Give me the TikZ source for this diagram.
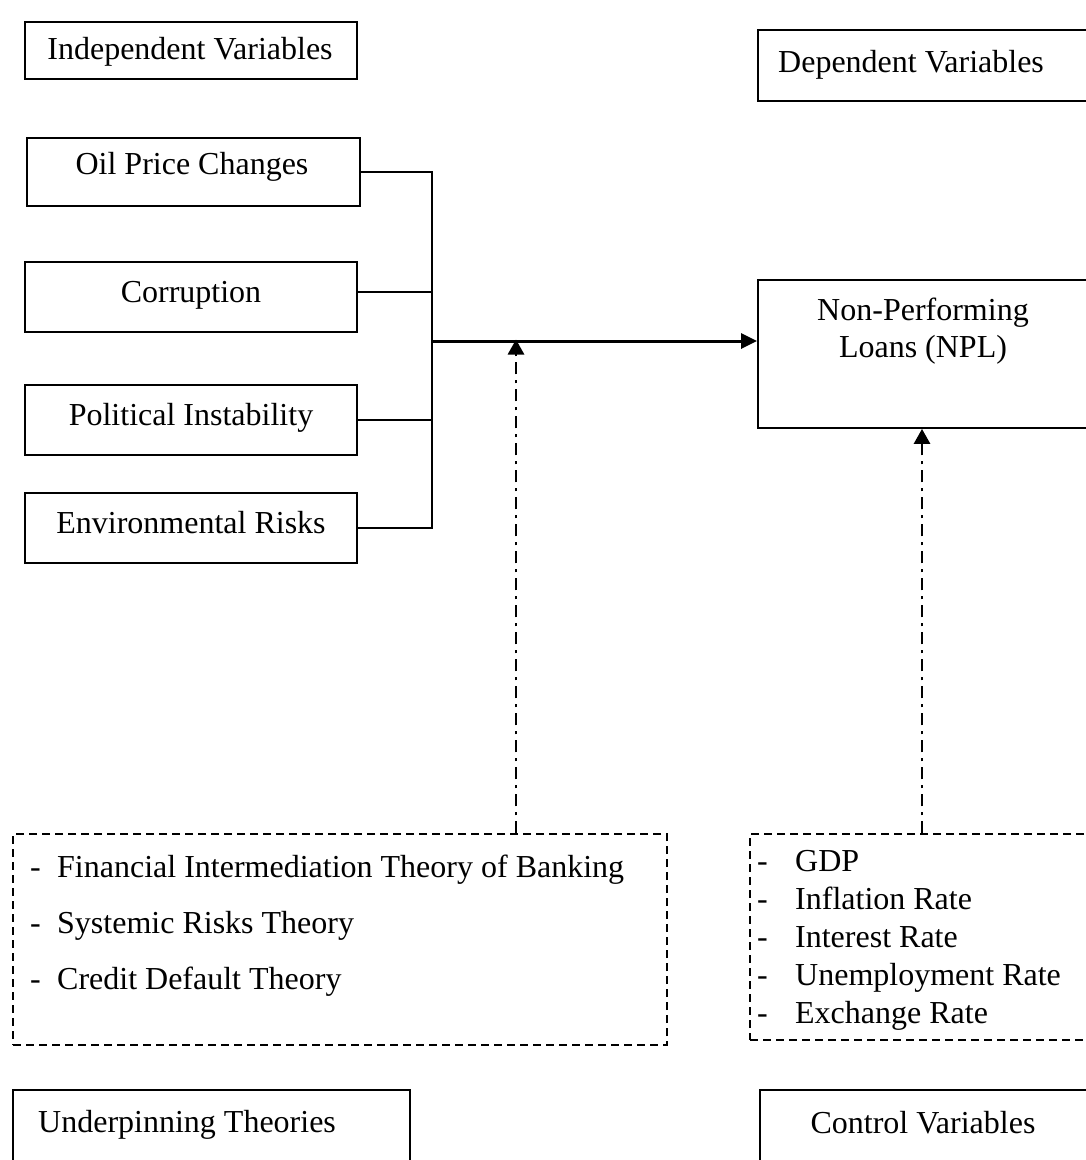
\documentclass[tikz,border=0pt]{standalone}
\usepackage{fontspec}
\setmainfont{Liberation Serif}
\usetikzlibrary{arrows.meta}
\newcommand{\dashitem}[2]{\makebox[#1][l]{-}#2}
\begin{document}
\begin{tikzpicture}[x=1pt,y=-1pt,
  font=\fontsize{32}{37}\selectfont,
  box/.style={draw, line width=1.8pt, inner sep=0pt},
  dbox/.style={draw, line width=1.5pt, dash pattern=on 8pt off 5pt, inner sep=0pt},
  txt/.style={inner sep=0pt},
  conn/.style={line width=2pt},
  mainarrow/.style={line width=3pt, -{Triangle[length=16pt,width=15pt]}},
  dasharrow/.style={line width=2.8pt, dash pattern=on 12pt off 6pt on 3pt off 6pt, -{Triangle[length=15pt,width=16pt]}}]
\useasboundingbox (0,0) rectangle (1086,1160);
\clip (0,0) rectangle (1086,1160);

% header boxes
\node[box, minimum width=332pt, minimum height=57pt] (indep) at (191,50.5) {};
\node[txt, anchor=base] (indeptxt) at (190,59) {Independent Variables};
\node[box, minimum width=342pt, minimum height=71pt] (dep) at (929,65.5) {};
\node[txt, anchor=base west] (deptxt) at (778,72) {Dependent Variables};

% independent variable boxes
\node[box, minimum width=333pt, minimum height=68pt] (oil) at (193.5,172) {};
\node[txt, anchor=base] (oiltxt) at (192,174) {Oil Price Changes};
\node[box, minimum width=332pt, minimum height=70pt] (cor) at (191,297) {};
\node[txt, anchor=base] (cortxt) at (191,302) {Corruption};
\node[box, minimum width=332pt, minimum height=70pt] (pol) at (191,420) {};
\node[txt, anchor=base] (poltxt) at (191,425) {Political Instability};
\node[box, minimum width=332pt, minimum height=70pt] (env) at (191,528) {};
\node[txt, anchor=base] (envtxt) at (191,533) {Environmental Risks};

% dependent box
\node[box, minimum width=342pt, minimum height=148pt] (npl) at (929,354) {};
\node[txt, anchor=base] (npltxt1) at (923,320) {Non-Performing};
\node[txt, anchor=base] (npltxt2) at (923,357) {Loans (NPL)};

% dashed boxes
\node[dbox, minimum width=654pt, minimum height=211pt] (ldash) at (340,939.5) {};
\node[txt, align=left, anchor=north west, font=\fontsize{32}{56}\selectfont] (ltxt) at (30,855)
  {\dashitem{27pt}{Financial Intermediation Theory of Banking}\\
   \dashitem{27pt}{Systemic Risks Theory}\\
   \dashitem{27pt}{Credit Default Theory}};
\node[dbox, minimum width=350pt, minimum height=206pt] (rdash) at (925,937) {};
\node[txt, align=left, anchor=north west, font=\fontsize{32}{37.8}\selectfont] (rtxt) at (757,850.5)
  {\dashitem{38pt}{GDP}\\
   \dashitem{38pt}{Inflation Rate}\\
   \dashitem{38pt}{Interest Rate}\\
   \dashitem{38pt}{Unemployment Rate}\\
   \dashitem{38pt}{Exchange Rate}};

% footer boxes
\node[box, minimum width=397pt, minimum height=80pt] (under) at (211.5,1130) {};
\node[txt, anchor=base west] (undertxt) at (38,1132) {Underpinning Theories};
\node[box, minimum width=340pt, minimum height=80pt] (ctrl) at (930,1130) {};
\node[txt, anchor=base] (ctrltxt) at (923,1133) {Control Variables};

% connectors
\coordinate (tr) at (432,0);
\coordinate (j) at (432,341);
\coordinate (lt) at (516,341);
\draw[conn] (oil.east) -- (oil.east -| tr) -- (env.east -| tr) -- (env.east);
\draw[conn] ([yshift=5pt]cor.east) -- ([yshift=5pt]cor.east -| tr);
\draw[conn] (pol.east) -- (pol.east -| tr);
\draw[mainarrow] (j) -- (j -| npl.west);
\draw[dasharrow] (lt |- ldash.north) -- ([yshift=1.5pt]lt);
\draw[dasharrow] (rdash.north -| 922,0) -- (npl.south -| 922,0);
\end{tikzpicture}
\end{document}
